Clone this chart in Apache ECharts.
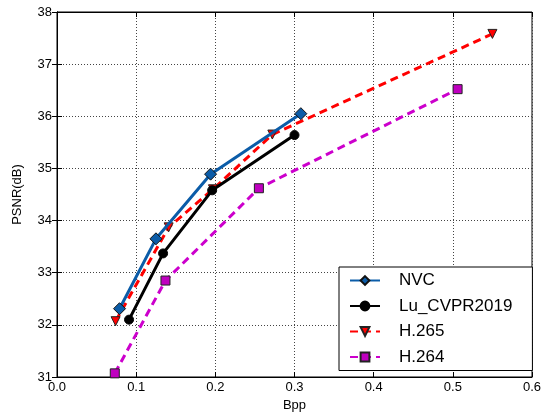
<!DOCTYPE html>
<html>
<head>
<meta charset="utf-8">
<script src="https://cdn.jsdelivr.net/npm/echarts@6/dist/echarts.min.js"></script>
<style>
  html, body { margin: 0; padding: 0; background: #fff; }
  #main { width: 550px; height: 417px; }
</style>
</head>
<body>
<div id="main"></div>
<script>
// values
var nvcBpp = [0.079, 0.125, 0.194, 0.308];
var nvcPsnr = [32.31, 33.65, 34.89, 36.05];
var luBpp = [0.091, 0.134, 0.196, 0.300];
var luPsnr = [32.10, 33.37, 34.58, 35.64];
var h265Bpp = [0.074, 0.141, 0.197, 0.272, 0.550];
var h265Psnr = [32.07, 33.87, 34.60, 35.65, 37.58];
var h264Bpp = [0.073, 0.137, 0.255, 0.506];
var h264Psnr = [31.07, 32.85, 34.62, 36.52];
var xTicks = [0, 0.1, 0.2, 0.3, 0.4, 0.5, 0.6];
var yTicks = [31, 32, 33, 34, 35, 36, 37, 38];

function pairs(xs, ys) {
  return xs.map(function (x, i) { return [x, ys[i]]; });
}

var chart = echarts.init(document.getElementById('main'), null, { renderer: 'canvas' });
var font = 'Liberation Sans';

var gridLine = { show: true, lineStyle: { color: '#444', type: [1, 2], width: 1 } };

var option = {
  animation: false,
  textStyle: { fontFamily: font },
  grid: { left: 57, right: 18, top: 12, bottom: 37, show: true, borderColor: '#000', borderWidth: 1 },
  legend: {
    orient: 'vertical',
    left: 339,
    top: 267,
    padding: [5, 20, 5, 10],
    itemGap: 8.5,
    itemWidth: 30,
    itemHeight: 11,
    backgroundColor: '#fff',
    borderColor: '#000',
    borderWidth: 1,
    borderRadius: 0,
    textStyle: { fontFamily: font, fontSize: 17, color: '#000', padding: [0, 0, 0, 14] },
    data: ['NVC', 'Lu_CVPR2019', 'H.265', 'H.264']
  },
  xAxis: [{
    type: 'value',
    min: 0, max: 0.6, interval: 0.1,
    name: 'Bpp', nameLocation: 'middle', nameGap: 22,
    nameTextStyle: { fontFamily: font, fontSize: 13, color: '#000' },
    axisLine: { lineStyle: { color: '#000' } },
    axisTick: { inside: true, length: 5, lineStyle: { color: '#000' } },
    axisLabel: { fontFamily: font, fontSize: 13, color: '#000', margin: 4,
      formatter: function (v) { return v.toFixed(1); } },
    splitLine: gridLine
  }, {
    type: 'value', position: 'top',
    min: 0, max: 0.6, interval: 0.1,
    axisLine: { lineStyle: { color: '#000' } },
    axisTick: { inside: true, length: 5, lineStyle: { color: '#000' } },
    axisLabel: { show: false },
    splitLine: { show: false }
  }],
  yAxis: [{
    type: 'value',
    min: 31, max: 38, interval: 1,
    name: 'PSNR(dB)', nameLocation: 'middle', nameGap: 33, nameRotate: 90,
    nameTextStyle: { fontFamily: font, fontSize: 13, color: '#000' },
    axisLine: { show: true, lineStyle: { color: '#000' } },
    axisTick: { show: true, inside: true, length: 5, lineStyle: { color: '#000' } },
    axisLabel: { fontFamily: font, fontSize: 13, color: '#000', margin: 5 },
    splitLine: gridLine
  }, {
    type: 'value', position: 'right',
    min: 31, max: 38, interval: 1,
    axisLine: { show: true, lineStyle: { color: '#000' } },
    axisTick: { show: true, inside: true, length: 5, lineStyle: { color: '#000' } },
    axisLabel: { show: false },
    splitLine: { show: false }
  }],
  series: [
    {
      name: 'H.264', type: 'line', data: pairs(h264Bpp, h264Psnr),
      symbol: 'rect', symbolSize: 9, z: 2,
      lineStyle: { color: '#cc00cc', width: 3, type: [8, 5] },
      itemStyle: { color: '#bf00bf', borderColor: '#222', borderWidth: 1 }
    },
    {
      name: 'H.265', type: 'line', data: pairs(h265Bpp, h265Psnr),
      symbol: 'triangle', symbolRotate: 180, symbolSize: 9, z: 3,
      lineStyle: { color: '#ff0000', width: 3, type: [8, 5] },
      itemStyle: { color: '#ff0000', borderColor: '#222', borderWidth: 1 }
    },
    {
      name: 'Lu_CVPR2019', type: 'line', data: pairs(luBpp, luPsnr),
      symbol: 'circle', symbolSize: 9, z: 4,
      lineStyle: { color: '#000', width: 3 },
      itemStyle: { color: '#000', borderColor: '#000', borderWidth: 1 }
    },
    {
      name: 'NVC', type: 'line', data: pairs(nvcBpp, nvcPsnr),
      symbol: 'diamond', symbolSize: 12, z: 5,
      lineStyle: { color: '#0b5ca8', width: 3 },
      itemStyle: { color: '#0b5ca8', borderColor: '#111', borderWidth: 1 }
    }
  ]
};

chart.setOption(option);
</script>
</body>
</html>
